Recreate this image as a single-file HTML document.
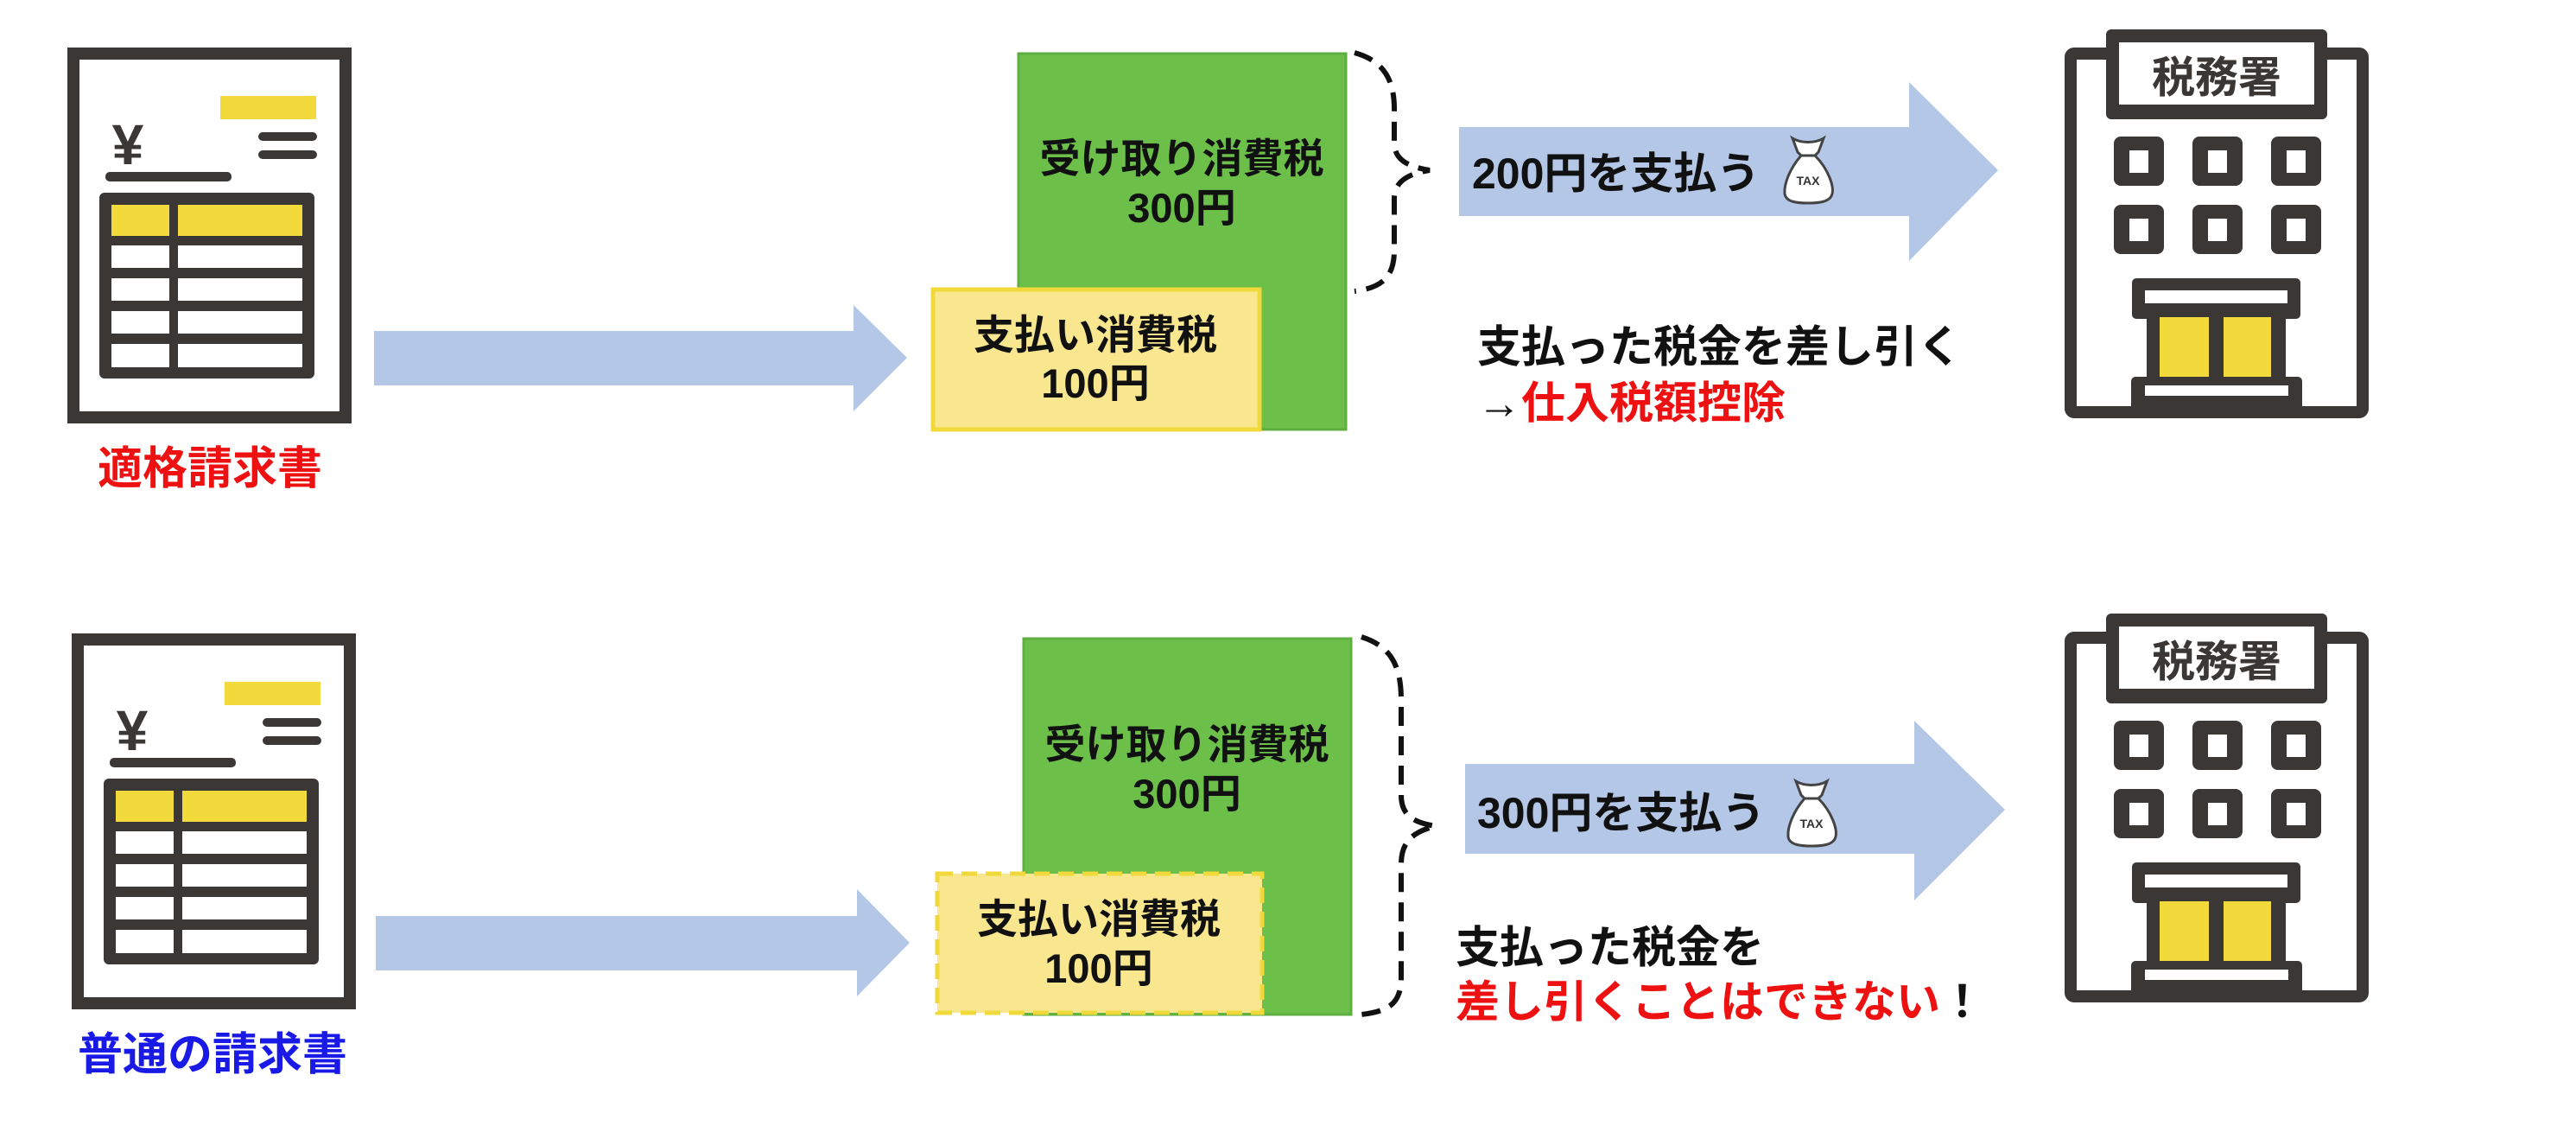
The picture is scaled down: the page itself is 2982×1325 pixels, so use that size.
<!DOCTYPE html>
<html><head><meta charset="utf-8"><style>
html,body{margin:0;padding:0;background:#fff}
svg{display:block}
text{font-family:"Liberation Sans","Noto Sans CJK JP",sans-serif;font-weight:bold}
</style></head><body>
<svg width="2982" height="1325" viewBox="0 0 2982 1325" xmlns="http://www.w3.org/2000/svg">
<rect width="2982" height="1325" fill="#fff"/>

<!-- ===== INVOICE TOP ===== -->
<g id="inv1">
<rect x="85" y="62" width="315" height="421" fill="#fff" stroke="#3a3735" stroke-width="14"/>
<rect x="255" y="111" width="111" height="27" fill="#f3da3c"/>
<text x="148" y="190" font-size="66" fill="#3a3735" text-anchor="middle" font-family="Liberation Sans,sans-serif">¥</text>
<rect x="122" y="199" width="146" height="11" rx="5" fill="#3a3735"/>
<rect x="299" y="153" width="68" height="10" rx="5" fill="#3a3735"/>
<rect x="299" y="174" width="68" height="10" rx="5" fill="#3a3735"/>
<rect x="115" y="223" width="249" height="215" rx="6" fill="#3a3735"/>
<rect x="129" y="237" width="67" height="36" fill="#f3da3c"/><rect x="206" y="237" width="144" height="36" fill="#f3da3c"/>
<rect x="129" y="284" width="67" height="26" fill="#fff"/><rect x="206" y="284" width="144" height="26" fill="#fff"/>
<rect x="129" y="322" width="67" height="26" fill="#fff"/><rect x="206" y="322" width="144" height="26" fill="#fff"/>
<rect x="129" y="360" width="67" height="26" fill="#fff"/><rect x="206" y="360" width="144" height="26" fill="#fff"/>
<rect x="129" y="398" width="67" height="27" fill="#fff"/><rect x="206" y="398" width="144" height="27" fill="#fff"/>
</g>
<text x="243" y="560" font-size="52" fill="#ee1111" text-anchor="middle">適格請求書</text>

<!-- ===== INVOICE BOTTOM ===== -->
<g transform="translate(5,678)">
<rect x="85" y="62" width="315" height="421" fill="#fff" stroke="#3a3735" stroke-width="14"/>
<rect x="255" y="111" width="111" height="27" fill="#f3da3c"/>
<text x="148" y="190" font-size="66" fill="#3a3735" text-anchor="middle" font-family="Liberation Sans,sans-serif">¥</text>
<rect x="122" y="199" width="146" height="11" rx="5" fill="#3a3735"/>
<rect x="299" y="153" width="68" height="10" rx="5" fill="#3a3735"/>
<rect x="299" y="174" width="68" height="10" rx="5" fill="#3a3735"/>
<rect x="115" y="223" width="249" height="215" rx="6" fill="#3a3735"/>
<rect x="129" y="237" width="67" height="36" fill="#f3da3c"/><rect x="206" y="237" width="144" height="36" fill="#f3da3c"/>
<rect x="129" y="284" width="67" height="26" fill="#fff"/><rect x="206" y="284" width="144" height="26" fill="#fff"/>
<rect x="129" y="322" width="67" height="26" fill="#fff"/><rect x="206" y="322" width="144" height="26" fill="#fff"/>
<rect x="129" y="360" width="67" height="26" fill="#fff"/><rect x="206" y="360" width="144" height="26" fill="#fff"/>
<rect x="129" y="398" width="67" height="27" fill="#fff"/><rect x="206" y="398" width="144" height="27" fill="#fff"/>
</g>
<text x="246" y="1238" font-size="52" fill="#1a1ae6" text-anchor="middle">普通の請求書</text>

<!-- ===== ARROWS 1 ===== -->
<polygon points="433,383 988,383 988,353 1050,414 988,476 988,446 433,446" fill="#b4c7e7"/>
<polygon points="435,1060 992,1060 992,1029 1053,1091 992,1153 992,1123 435,1123" fill="#b4c7e7"/>

<!-- ===== BOXES TOP ===== -->
<rect x="1179" y="62" width="379" height="435" fill="#6cc04a" stroke="#5fae40" stroke-width="3"/>
<rect x="1080" y="335" width="378" height="162" fill="#f8e78f" stroke="#f1d93b" stroke-width="5"/>
<text x="1368" y="200" font-size="47" fill="#111" text-anchor="middle">受け取り消費税</text>
<text x="1368" y="257" font-size="47" fill="#111" text-anchor="middle">300円</text>
<text x="1268" y="404" font-size="47" fill="#111" text-anchor="middle">支払い消費税</text>
<text x="1268" y="460" font-size="47" fill="#111" text-anchor="middle">100円</text>

<!-- ===== BOXES BOTTOM ===== -->
<rect x="1185" y="739" width="379" height="435" fill="#6cc04a" stroke="#5fae40" stroke-width="3"/>
<rect x="1085" y="1011" width="376" height="161" fill="#f8e78f" stroke="#f1d93b" stroke-width="5" stroke-dasharray="18 10"/>
<text x="1374" y="878" font-size="47" fill="#111" text-anchor="middle">受け取り消費税</text>
<text x="1374" y="935" font-size="47" fill="#111" text-anchor="middle">300円</text>
<text x="1272" y="1080" font-size="47" fill="#111" text-anchor="middle">支払い消費税</text>
<text x="1272" y="1137" font-size="47" fill="#111" text-anchor="middle">100円</text>

<!-- ===== BRACES ===== -->
<path d="M1568,61 C1600,70 1615,90 1614,130 L1614,165 C1614,185 1630,193 1655,197 C1630,201 1614,210 1614,230 L1614,290 C1614,320 1600,333 1568,337" fill="none" stroke="#111" stroke-width="6" stroke-dasharray="22 12"/>
<path d="M1576,737 C1610,748 1622,770 1622,810 L1622,920 C1622,945 1638,952 1662,956 C1638,962 1622,972 1622,1000 L1622,1130 C1622,1160 1610,1170 1576,1174" fill="none" stroke="#111" stroke-width="6" stroke-dasharray="22 12"/>

<!-- ===== ARROWS 2 ===== -->
<polygon points="1689,147 2210,147 2210,95 2313,197 2210,302 2210,250 1689,250" fill="#b4c7e7"/>
<polygon points="1696,884 2216,884 2216,834 2321,937 2216,1042 2216,988 1696,988" fill="#b4c7e7"/>
<text x="1704" y="218" font-size="50" fill="#111">200円を支払う</text>
<text x="1710" y="958" font-size="50" fill="#111">300円を支払う</text>

<!-- money bags -->
<g transform="translate(2065,158)">
<path d="M10,2 C20,8 36,8 46,2 L40,18 L36,22 C52,38 58,58 56,66 C54,76 40,77 28,77 C16,77 2,76 1,66 C0,56 6,38 20,22 L16,18 Z" fill="#fff" stroke="#444" stroke-width="3"/>
<line x1="20" y1="22" x2="36" y2="22" stroke="#444" stroke-width="3"/>
<text x="28" y="56" font-size="14" fill="#333" text-anchor="middle" font-weight="normal">TAX</text>
</g>
<g transform="translate(2069,902)">
<path d="M10,2 C20,8 36,8 46,2 L40,18 L36,22 C52,38 58,58 56,66 C54,76 40,77 28,77 C16,77 2,76 1,66 C0,56 6,38 20,22 L16,18 Z" fill="#fff" stroke="#444" stroke-width="3"/>
<line x1="20" y1="22" x2="36" y2="22" stroke="#444" stroke-width="3"/>
<text x="28" y="56" font-size="14" fill="#333" text-anchor="middle" font-weight="normal">TAX</text>
</g>

<!-- explanations -->
<text x="1710" y="419" font-size="51" fill="#111">支払った税金を差し引く</text>
<text x="1710" y="484" font-size="51" fill="#111">→<tspan fill="#ee1111">仕入税額控除</tspan></text>
<text x="1685" y="1114" font-size="51" fill="#111">支払った税金を</text>
<text x="1685" y="1177" font-size="51" fill="#ee1111">差し引くことはできない<tspan fill="#111">！</tspan></text>

<!-- ===== BUILDING TOP ===== -->
<g>
<rect x="2397" y="62" width="338" height="415" fill="#fff" stroke="#3a3735" stroke-width="14" rx="4"/>
<rect x="2438" y="34" width="256" height="104" rx="6" fill="#3a3735"/>
<rect x="2453" y="49" width="226" height="72" fill="#fff"/>
<text x="2566" y="107" font-size="50" fill="#3a3735" text-anchor="middle">税務署</text>
<g fill="#3a3735">
<rect x="2447" y="158" width="58" height="57" rx="8"/><rect x="2538" y="158" width="58" height="57" rx="8"/><rect x="2629" y="158" width="58" height="57" rx="8"/>
<rect x="2447" y="237" width="58" height="57" rx="8"/><rect x="2538" y="237" width="58" height="57" rx="8"/><rect x="2629" y="237" width="58" height="57" rx="8"/>
</g>
<g fill="#fff">
<rect x="2465" y="174" width="22" height="26"/><rect x="2556" y="174" width="22" height="26"/><rect x="2647" y="174" width="22" height="26"/>
<rect x="2465" y="253" width="22" height="26"/><rect x="2556" y="253" width="22" height="26"/><rect x="2647" y="253" width="22" height="26"/>
</g>
<rect x="2468" y="322" width="195" height="47" rx="5" fill="#3a3735"/>
<rect x="2483" y="336" width="165" height="15" fill="#fff"/>
<rect x="2485" y="367" width="161" height="73" fill="#3a3735"/>
<rect x="2500" y="367" width="57" height="71" fill="#f3da3c"/>
<rect x="2574" y="367" width="55" height="71" fill="#f3da3c"/>
<rect x="2467" y="436" width="198" height="40" rx="5" fill="#3a3735"/>
<rect x="2483" y="446" width="166" height="12" fill="#fff"/>
</g>

<!-- ===== BUILDING BOTTOM ===== -->
<g transform="translate(0,676)">
<rect x="2397" y="62" width="338" height="415" fill="#fff" stroke="#3a3735" stroke-width="14" rx="4"/>
<rect x="2438" y="34" width="256" height="104" rx="6" fill="#3a3735"/>
<rect x="2453" y="49" width="226" height="72" fill="#fff"/>
<text x="2566" y="107" font-size="50" fill="#3a3735" text-anchor="middle">税務署</text>
<g fill="#3a3735">
<rect x="2447" y="158" width="58" height="57" rx="8"/><rect x="2538" y="158" width="58" height="57" rx="8"/><rect x="2629" y="158" width="58" height="57" rx="8"/>
<rect x="2447" y="237" width="58" height="57" rx="8"/><rect x="2538" y="237" width="58" height="57" rx="8"/><rect x="2629" y="237" width="58" height="57" rx="8"/>
</g>
<g fill="#fff">
<rect x="2465" y="174" width="22" height="26"/><rect x="2556" y="174" width="22" height="26"/><rect x="2647" y="174" width="22" height="26"/>
<rect x="2465" y="253" width="22" height="26"/><rect x="2556" y="253" width="22" height="26"/><rect x="2647" y="253" width="22" height="26"/>
</g>
<rect x="2468" y="322" width="195" height="47" rx="5" fill="#3a3735"/>
<rect x="2483" y="336" width="165" height="15" fill="#fff"/>
<rect x="2485" y="367" width="161" height="73" fill="#3a3735"/>
<rect x="2500" y="367" width="57" height="71" fill="#f3da3c"/>
<rect x="2574" y="367" width="55" height="71" fill="#f3da3c"/>
<rect x="2467" y="436" width="198" height="40" rx="5" fill="#3a3735"/>
<rect x="2483" y="446" width="166" height="12" fill="#fff"/>
</g>
</svg>
</body></html>
